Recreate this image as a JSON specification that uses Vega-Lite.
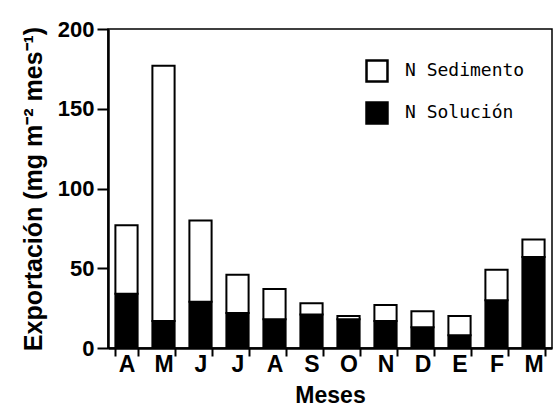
{
  "$schema": "https://vega.github.io/schema/vega-lite/v6.json",
  "width": 444,
  "height": 319,
  "autosize": {"type": "none"},
  "padding": {"left": 108, "top": 29, "right": 1, "bottom": 58},
  "background": "white",
  "config": {
    "view": {"stroke": "black", "strokeWidth": 1.5},
    "font": "Liberation Sans"
  },
  "data": {
    "values": [
      {"mes": "Abr", "serie": "N Solución", "valor": 34},
      {"mes": "Abr", "serie": "N Sedimento", "valor": 43},
      {"mes": "May", "serie": "N Solución", "valor": 17},
      {"mes": "May", "serie": "N Sedimento", "valor": 160},
      {"mes": "Jun", "serie": "N Solución", "valor": 29},
      {"mes": "Jun", "serie": "N Sedimento", "valor": 51},
      {"mes": "Jul", "serie": "N Solución", "valor": 22},
      {"mes": "Jul", "serie": "N Sedimento", "valor": 24},
      {"mes": "Ago", "serie": "N Solución", "valor": 18},
      {"mes": "Ago", "serie": "N Sedimento", "valor": 19},
      {"mes": "Sep", "serie": "N Solución", "valor": 21},
      {"mes": "Sep", "serie": "N Sedimento", "valor": 7},
      {"mes": "Oct", "serie": "N Solución", "valor": 18},
      {"mes": "Oct", "serie": "N Sedimento", "valor": 2},
      {"mes": "Nov", "serie": "N Solución", "valor": 17},
      {"mes": "Nov", "serie": "N Sedimento", "valor": 10},
      {"mes": "Dic", "serie": "N Solución", "valor": 13},
      {"mes": "Dic", "serie": "N Sedimento", "valor": 10},
      {"mes": "Ene", "serie": "N Solución", "valor": 8},
      {"mes": "Ene", "serie": "N Sedimento", "valor": 12},
      {"mes": "Feb", "serie": "N Solución", "valor": 30},
      {"mes": "Feb", "serie": "N Sedimento", "valor": 19},
      {"mes": "Mar", "serie": "N Solución", "valor": 57},
      {"mes": "Mar", "serie": "N Sedimento", "valor": 11}
    ]
  },
  "mark": {"type": "bar", "stroke": "black", "strokeWidth": 2},
  "encoding": {
    "x": {
      "field": "mes",
      "type": "nominal",
      "sort": null,
      "scale": {"paddingInner": 0.4, "paddingOuter": 0.2},
      "axis": {
        "title": "Meses",
        "titleFont": "Liberation Sans",
        "titleFontSize": 23,
        "titleFontWeight": "bold",
        "titleColor": "black",
        "titlePadding": 8,
        "labelExpr": "substring(datum.label, 0, 1)",
        "labelAngle": 0,
        "labelFont": "Liberation Sans",
        "labelFontSize": 23,
        "labelFontWeight": "bold",
        "labelColor": "black",
        "labelPadding": -3,
        "tickBand": "extent",
        "tickSize": 8,
        "tickWidth": 2,
        "tickColor": "black",
        "domainColor": "black",
        "domainWidth": 2.5
      }
    },
    "y": {
      "field": "valor",
      "type": "quantitative",
      "aggregate": "sum",
      "stack": "zero",
      "scale": {"domain": [0, 200], "nice": false},
      "axis": {
        "title": "Exportación (mg m⁻² mes⁻¹)",
        "titleFont": "Liberation Sans",
        "titleFontSize": 25,
        "titleFontWeight": "bold",
        "titleColor": "black",
        "titlePadding": 11,
        "values": [0, 50, 100, 150, 200],
        "labelFont": "Liberation Sans",
        "labelFontSize": 22,
        "labelFontWeight": "bold",
        "labelColor": "black",
        "labelPadding": 3,
        "tickSize": 11,
        "tickWidth": 2,
        "tickColor": "black",
        "domainColor": "black",
        "domainWidth": 2.5,
        "grid": false
      }
    },
    "color": {
      "field": "serie",
      "type": "nominal",
      "scale": {"domain": ["N Sedimento", "N Solución"], "range": ["white", "black"]},
      "legend": {
        "title": null,
        "orient": "none",
        "legendX": 257,
        "legendY": 30,
        "symbolType": "square",
        "symbolSize": 440,
        "symbolStrokeColor": "black",
        "symbolStrokeWidth": 2.5,
        "labelFont": "DejaVu Sans Mono",
        "labelFontSize": 18,
        "labelColor": "black",
        "labelOffset": 16,
        "rowPadding": 10
      }
    },
    "order": {"field": "serie", "sort": "descending"}
  }
}
